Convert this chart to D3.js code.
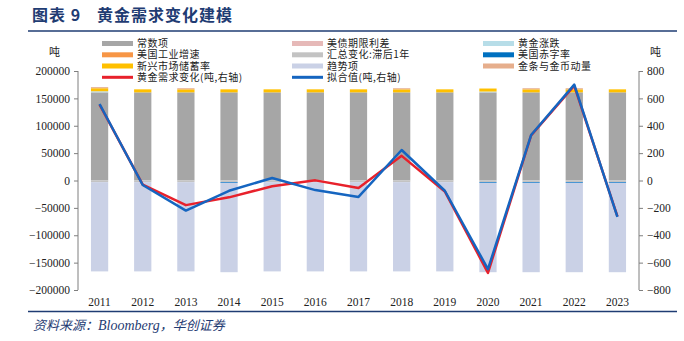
<!DOCTYPE html>
<html>
<head>
<meta charset="utf-8">
<script src="https://cdn.jsdelivr.net/npm/d3@7/dist/d3.min.js"></script>
<style>
  body { margin: 0; background: #fff; }
  text { font-family: "Noto Sans CJK SC", "Noto Sans", sans-serif; }
  .num { font-family: "Liberation Serif", "DejaVu Serif", serif; }
</style>
</head>
<body>
<svg id="chart" width="684" height="341"></svg>
<script>
// Years on the category axis
const years = ["2011","2012","2013","2014","2015","2016","2017","2018","2019","2020","2021","2022","2023"];

// Model components (left axis)
const constantTerm   = [161000,161000,161000,161000,161000,161000,161000,161000,161000,161000,161000,161000,161000];
const aggregateLag   = [-3000,-3000,-3000,-3000,-3000,-3000,-3000,-3000,-3000,-3000,-3000,-3000,-3000];
const goldPriceMove  = [2000,0,0,0,0,0,0,0,0,1500,0,0,0];
const usIndustrial   = [0,0,0,0,0,0,0,0,0,0,0,0,0];
const termSpread     = [0,0,0,0,0,0,0,0,0,0,0,0,0];
const usDeficit      = [0,0,0,-1500,0,0,0,0,0,-1500,-1500,-1500,-1500];
const emSavings      = [5500,5500,5500,5500,5500,5500,5500,5500,5500,5500,5500,5500,5500];
const barCoinMomentum= [2000,0,2000,0,0,0,0,2000,0,0,2000,2000,0];
const trendTerm      = [-163000,-163000,-163000,-163000,-163000,-163000,-163000,-163000,-163000,-163000,-163000,-163000,-163000];

// Gold demand change and fitted value (tonnes, right axis)
const demandChange = [555,-30,-180,-123,-42,1,-55,180,-80,-675,330,692,-262];
const fittedValue  = [559,-33,-220,-75,18,-70,-120,223,-75,-648,332,700,-265];

// Axis ticks
const leftTicks  = [-200000,-150000,-100000,-50000,0,50000,100000,150000,200000];
const rightTicks = [-800,-600,-400,-200,0,200,400,600,800];

const series = [
  { key: "常数项",          values: constantTerm,    color: "#A6A6A6" },
  { key: "汇总变化:滞后1年", values: aggregateLag,    color: "#C3C3C3" },
  { key: "黄金涨跌",        values: goldPriceMove,   color: "#B7DDE8" },
  { key: "美国工业增速",    values: usIndustrial,    color: "#F79646" },
  { key: "美债期限利差",    values: termSpread,      color: "#E6B9B8" },
  { key: "美国赤字率",      values: usDeficit,       color: "#1F7FCC" },
  { key: "新兴市场储蓄率",  values: emSavings,       color: "#FFC000" },
  { key: "金条与金币动量",  values: barCoinMomentum, color: "#E6AE8C" },
  { key: "趋势项",          values: trendTerm,       color: "#CAD1E6" }
];
const colorOf = Object.fromEntries(series.map(s => [s.key, s.color]));

const rows = years.map((y, i) => {
  const r = { year: y };
  series.forEach(s => r[s.key] = s.values[i]);
  return r;
});

const svg = d3.select("#chart");
svg.append("rect").attr("width", 684).attr("height", 341).attr("fill", "#fff");

const navy = "#1F3C73";

// Title and rules
const title = svg.append("text").attr("x", 32).attr("y", 21)
  .attr("fill", navy).attr("font-size", 16).attr("font-weight", 700)
  .attr("letter-spacing", 1);
title.append("tspan").text("图表 9");
title.append("tspan").attr("x", 97).text("黄金需求变化建模");

svg.append("line").attr("x1", 28).attr("x2", 677).attr("y1", 31).attr("y2", 31)
  .attr("stroke", navy).attr("stroke-width", 1.6);
svg.append("line").attr("x1", 28).attr("x2", 677).attr("y1", 311.5).attr("y2", 311.5)
  .attr("stroke", navy).attr("stroke-width", 1.6);

const src = svg.append("text").attr("x", 33).attr("y", 330)
  .attr("fill", navy).attr("font-size", 13).attr("font-style", "italic");
src.append("tspan").text("资料来源：");
src.append("tspan").attr("font-family", "Liberation Serif, serif").attr("font-size", 14).text("Bloomberg");
src.append("tspan").text("，华创证券");

// Scales
const x = d3.scaleBand().domain(years).range([78, 639]).padding(0);
const yL = d3.scaleLinear().domain([-200000, 200000]).range([290, 71]);
const yR = d3.scaleLinear().domain([-800, 800]).range([290, 71]);
const barW = x.bandwidth() * 0.4;

// Stacked bars
const stack = d3.stack().keys(series.map(s => s.key)).offset(d3.stackOffsetDiverging);
const layers = stack(rows);
svg.append("g").selectAll("g").data(layers).join("g")
  .attr("fill", d => colorOf[d.key])
  .selectAll("rect").data(d => d).join("rect")
  .attr("x", d => x(d.data.year) + (x.bandwidth() - barW) / 2)
  .attr("width", barW)
  .attr("y", d => yL(Math.max(d[0], d[1])))
  .attr("height", d => Math.abs(yL(d[0]) - yL(d[1])));

// Axes
const axisColor = "#7F7F7F";
const gL = svg.append("g").attr("transform", "translate(78,0)")
  .call(d3.axisLeft(yL).tickValues(leftTicks).tickFormat(d3.format("d")).tickSize(4).tickPadding(4));
const gR = svg.append("g").attr("transform", "translate(639,0)")
  .call(d3.axisRight(yR).tickValues(rightTicks).tickFormat(d3.format("d")).tickSize(4).tickPadding(4));
[gL, gR].forEach(g => {
  g.selectAll("path, line").attr("stroke", axisColor);
  g.select(".domain").attr("d", "M0,71V290");
  g.selectAll("text").attr("class", "num").attr("font-size", 11.5).attr("fill", "#222");
});

svg.append("g").selectAll("text").data(years).join("text")
  .attr("class", "num").attr("font-size", 11.5).attr("fill", "#222")
  .attr("text-anchor", "middle")
  .attr("x", d => x(d) + x.bandwidth() / 2).attr("y", 306)
  .text(d => d);

svg.append("text").attr("x", 49).attr("y", 56).attr("font-size", 11).attr("fill", "#222").text("吨");
svg.append("text").attr("x", 650).attr("y", 56).attr("font-size", 11).attr("fill", "#222").text("吨");

// Lines (right axis)
const line = d3.line().x((d, i) => x(years[i]) + x.bandwidth() / 2).y(d => yR(d));
svg.append("path").datum(demandChange).attr("d", line)
  .attr("fill", "none").attr("stroke", "#E8212B").attr("stroke-width", 2.5).attr("stroke-linejoin", "round");
svg.append("path").datum(fittedValue).attr("d", line)
  .attr("fill", "none").attr("stroke", "#1565C0").attr("stroke-width", 2.5).attr("stroke-linejoin", "round");

// Legend: three columns, four rows
const legendItems = [
  { key: "常数项", col: 0, row: 0, type: "bar", color: colorOf["常数项"] },
  { key: "美国工业增速", col: 0, row: 1, type: "bar", color: colorOf["美国工业增速"] },
  { key: "新兴市场储蓄率", col: 0, row: 2, type: "bar", color: colorOf["新兴市场储蓄率"] },
  { key: "黄金需求变化(吨,右轴)", col: 0, row: 3, type: "line", color: "#E8212B" },
  { key: "美债期限利差", col: 1, row: 0, type: "bar", color: colorOf["美债期限利差"] },
  { key: "汇总变化:滞后1年", col: 1, row: 1, type: "bar", color: colorOf["汇总变化:滞后1年"] },
  { key: "趋势项", col: 1, row: 2, type: "bar", color: colorOf["趋势项"] },
  { key: "拟合值(吨,右轴)", col: 1, row: 3, type: "line", color: "#1565C0" },
  { key: "黄金涨跌", col: 2, row: 0, type: "bar", color: colorOf["黄金涨跌"] },
  { key: "美国赤字率", col: 2, row: 1, type: "bar", color: "#0070C0" },
  { key: "金条与金币动量", col: 2, row: 2, type: "bar", color: colorOf["金条与金币动量"] }
];
const colX = [102, 292, 483];
const rowY = [43.5, 54.8, 66, 77.3];
const lg = svg.append("g").selectAll("g").data(legendItems).join("g")
  .attr("transform", d => `translate(${colX[d.col]},${rowY[d.row]})`);
lg.append("rect").attr("x", 0).attr("width", 31)
  .attr("y", d => d.type === "line" ? -1.5 : -2.5)
  .attr("height", d => d.type === "line" ? 3 : 5)
  .attr("fill", d => d.color);
lg.append("text").attr("x", 35).attr("y", 3.6).attr("font-size", 10).attr("letter-spacing", 0.5)
  .attr("fill", "#222")
  .text(d => d.key);
</script>
</body>
</html>
